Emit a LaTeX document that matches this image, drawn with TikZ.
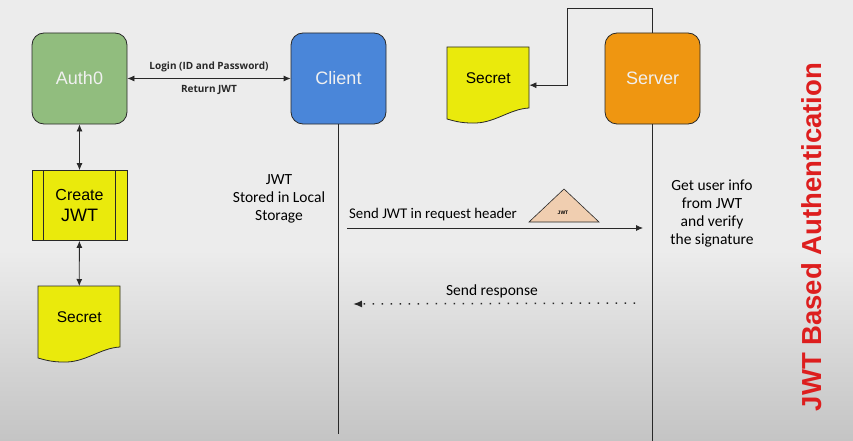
\documentclass[tikz,border=0pt]{standalone}
\usepackage{fontspec}
\setmainfont{Liberation Sans}
\newfontfamily\notefont{Carlito}
\newfontfamily\labelfont{Open Sans}
\usepackage{tikz}
\usetikzlibrary{arrows.meta,positioning,calc}
\definecolor{jwtbg}{RGB}{236,236,236}
\definecolor{jwtbgdark}{RGB}{196,196,196}
\definecolor{jwtgreen}{RGB}{145,189,126}
\definecolor{jwtblue}{RGB}{74,134,217}
\definecolor{jwtorange}{RGB}{239,150,17}
\definecolor{jwtyellow}{RGB}{234,234,12}
\definecolor{jwtpeach}{RGB}{240,206,176}
\definecolor{jwtred}{RGB}{221,30,30}
\definecolor{jwtline}{RGB}{40,40,40}

\begin{document}
\begin{tikzpicture}[x=1pt, y=-1pt, >={Latex[length=7pt,width=6pt]}]
    % Define styles
    \tikzset{
        actor/.style={rectangle, rounded corners=12pt, draw=jwtline, line width=0.8pt, minimum width=95pt, minimum height=91pt, text=white!94!black, font=\fontsize{18}{20}\selectfont},
        auth/.style={actor, fill=jwtgreen},
        cli/.style={actor, fill=jwtblue},
        serv/.style={actor, fill=jwtorange},
        process/.style={rectangle, draw=jwtline, line width=0.8pt, fill=jwtyellow, minimum width=95pt, minimum height=70pt, align=center,
            path picture={\draw[jwtline, line width=0.8pt]
                ([xshift=11pt]path picture bounding box.north west) -- ([xshift=11pt]path picture bounding box.south west)
                ([xshift=-12pt]path picture bounding box.north east) -- ([xshift=-12pt]path picture bounding box.south east);}},
        doc/.style={anchor=north west, minimum width=82pt, minimum height=61pt, inner sep=0pt, font=\fontsize{15.5}{18}\selectfont},
        docpage/.pic={\draw[jwtline, line width=0.8pt, fill=jwtyellow] (0,0) -- (82,0) -- (82,61)
            .. controls (62,62) and (47,77) .. (25,76) .. controls (14,76) and (7,74) .. (0,72) -- cycle;},
        note/.style={align=center, font=\notefont\fontsize{15.5}{18}\selectfont},
        msg/.style={font=\labelfont\bfseries\fontsize{10}{12}\selectfont},
        link/.style={<->, jwtline, line width=0.8pt},
        life/.style={jwtline, line width=1pt}
    }

    % Background
    \useasboundingbox (0,0) rectangle (853,441);
    \fill[jwtbg] (0,0) rectangle (853,441);
    \shade[top color=jwtbg, bottom color=jwtbgdark] (0,250) rectangle (853,441);

    % Components
    \node[auth] (auth) at (79.5,78.5) {Auth0};
    \node[cli] (client) at (338.5,78.5) {Client};
    \node[serv] (server) at (652.5,78.5) {Server};
    \node[process, font=\fontsize{16}{21}\selectfont] (create) at (79.5,205.5) {Create\\{\fontsize{18}{20}\selectfont JWT}};
    \pic at (38,286) {docpage};
    \node[doc] (secretA) at (38,286) {Secret};
    \pic at (447,47) {docpage};
    \node[doc] (secretB) at (447,47) {Secret};

    % Lifelines
    \coordinate (clientEnd) at (338.5,434);
    \coordinate (serverEnd) at (652.5,441);
    \draw[life] (client.south) -- (clientEnd);
    \draw[life] (server.south) -- (serverEnd);

    % Arrows
    \draw[link] (auth) -- node[msg, above=3pt] (login) {Login (ID and Password)}
        node[msg, below=3pt] (ret) {Return JWT} (client);
    \draw[link] (auth) -- (create);
    \draw[link] (create) -- (secretA);
    \coordinate (loop) at (567,8);
    \draw[->, jwtline, line width=0.8pt] (server.north) |- (loop) |- ([yshift=-7.5pt]secretB.east);

    % Request and response
    \coordinate (reqStart) at (347,228);
    \coordinate (reqEnd) at (643,228);
    \draw[->, jwtline, line width=0.8pt] (reqStart) -- (reqEnd);
    \node[note, anchor=base west, inner sep=0pt, font=\notefont\fontsize{14.8}{18}\selectfont] (reqText) at (349,218) {Send JWT in request header};
    \draw[jwtline, line width=0.6pt, fill=jwtpeach] (529,222) -- (564,189) -- (599,222) -- cycle;
    \node[font=\fontsize{5}{6}\selectfont\bfseries] (token) at (563,213) {JWT};
    \coordinate (resStart) at (635,303);
    \coordinate (resEnd) at (353,304);
    \draw[-{Latex[length=9pt,width=7pt]}, jwtline, line width=1.5pt, dash pattern=on 1.5pt off 7.5pt] (resStart) -- (resEnd);
    \node[note] (resText) at (492,291) {Send response};

    % Side annotations
    \node[note] (stored) at (279,199) {JWT\\Stored in Local\\Storage};
    \node[note] (verify) at (712,213) {Get user info\\from JWT\\and verify\\the signature};
    \node[rotate=90, text=jwtred, font=\bfseries\fontsize{27.5}{30}\selectfont] (title) at (812,237) {JWT Based Authentication};
\end{tikzpicture}
\end{document}
